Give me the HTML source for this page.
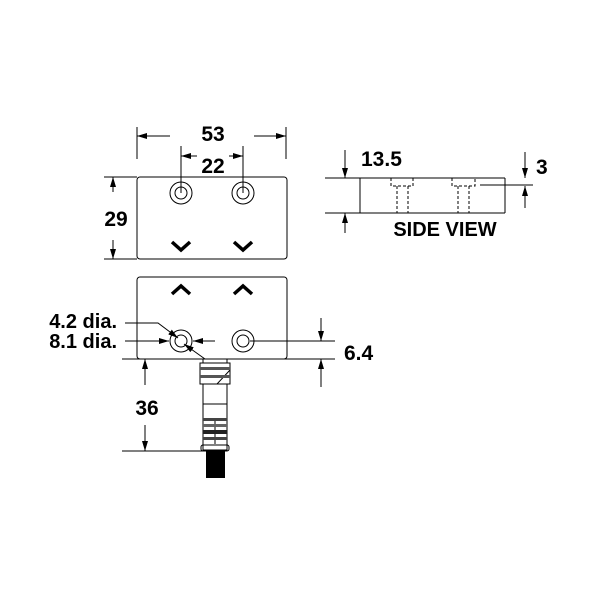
<!DOCTYPE html>
<html><head><style>
html,body{margin:0;padding:0;background:#fff;}
svg{display:block;}
text{font-family:"Liberation Sans",Arial,sans-serif;font-weight:bold;fill:#000;}
</style></head><body>
<svg width="600" height="600" viewBox="0 0 600 600" xmlns="http://www.w3.org/2000/svg">
<defs>
<marker id="a" viewBox="0 0 10 6" refX="10" refY="3" markerWidth="10" markerHeight="6" markerUnits="userSpaceOnUse" orient="auto"><path d="M0,0 L10,3 L0,6 z" fill="#000"/></marker>
</defs>
<g stroke="#000" stroke-width="1" fill="none">
<rect x="137" y="177" width="150" height="82" rx="3"/>
<circle cx="181" cy="193" r="11"/><circle cx="181" cy="193" r="6"/>
<circle cx="243" cy="193" r="11"/><circle cx="243" cy="193" r="6"/>
<path d="M172,242 L181,250 L190,242 M234,242 L243,250 L252,242" stroke-width="3.5"/>
<line x1="137" y1="127" x2="137" y2="159"/><line x1="286" y1="127" x2="286" y2="159"/>
<line x1="170" y1="136" x2="137" y2="136" marker-end="url(#a)"/>
<line x1="254" y1="136" x2="286" y2="136" marker-end="url(#a)"/>
<line x1="181" y1="146" x2="181" y2="193"/><line x1="243" y1="146" x2="243" y2="193"/>
<line x1="197" y1="156" x2="181" y2="156" marker-end="url(#a)"/>
<line x1="229" y1="156" x2="243" y2="156" marker-end="url(#a)"/>
<line x1="104" y1="177" x2="137" y2="177"/><line x1="104" y1="259" x2="137" y2="259"/>
<line x1="113" y1="192" x2="113" y2="177" marker-end="url(#a)"/>
<line x1="113" y1="240" x2="113" y2="259" marker-end="url(#a)"/>
<rect x="137" y="277" width="150" height="82" rx="3"/>
<path d="M172,294 L181,286 L190,294 M234,294 L243,286 L252,294" stroke-width="3.5"/>
<circle cx="181" cy="341" r="11"/><circle cx="181" cy="341" r="6"/>
<circle cx="243" cy="341" r="11"/><circle cx="243" cy="341" r="6"/>
<polyline points="125,323 158,323 178,338" marker-end="url(#a)"/>
<line x1="125" y1="341" x2="169" y2="341" marker-end="url(#a)"/>
<line x1="215" y1="341" x2="193" y2="341" marker-end="url(#a)"/>
<line x1="205" y1="359" x2="184" y2="344" marker-end="url(#a)"/>
<line x1="122" y1="359" x2="335" y2="359"/>
<line x1="250" y1="341" x2="335" y2="341"/>
<line x1="321" y1="318" x2="321" y2="341" marker-end="url(#a)"/>
<line x1="321" y1="387" x2="321" y2="359" marker-end="url(#a)"/>
<line x1="145" y1="385" x2="145" y2="359" marker-end="url(#a)"/>
<line x1="145" y1="425" x2="145" y2="451" marker-end="url(#a)"/>
<line x1="122" y1="451" x2="205" y2="451"/>
<rect x="200" y="363" width="30" height="21"/>
<rect x="203" y="384" width="24" height="66"/>
<line x1="203" y1="404" x2="227" y2="404"/>
<line x1="215" y1="418" x2="215" y2="444"/>
<rect x="201" y="445" width="28" height="6" rx="2"/>
<line x1="217" y1="384" x2="230" y2="370"/>
<line x1="203" y1="359" x2="203" y2="363"/><line x1="227" y1="359" x2="227" y2="363"/>
</g>
<g fill="#000">
<rect x="200" y="367" width="30" height="3" fill="#555"/>
<rect x="200" y="375" width="30" height="3" fill="#555"/>
<rect x="203" y="418" width="24" height="3" fill="#444"/>
<rect x="203" y="424" width="24" height="3" fill="#666"/>
<rect x="203" y="430" width="24" height="4" fill="#222"/>
<rect x="203" y="437" width="24" height="3" fill="#444"/>
<rect x="206" y="451" width="19" height="27"/>
</g>
<g stroke="#000" stroke-width="1" fill="none">
<line x1="325" y1="178" x2="505" y2="178"/>
<line x1="325" y1="213" x2="505" y2="213"/>
<line x1="360" y1="178" x2="360" y2="213"/>
<line x1="505" y1="178" x2="505" y2="213"/>
<polyline points="391,178 391,186 413,186 413,178" stroke-dasharray="3,2"/>
<polyline points="452,178 452,186 475,186 475,178" stroke-dasharray="3,2"/>
<g stroke-dasharray="3,2">
<line x1="397" y1="186" x2="397" y2="213"/><line x1="408" y1="186" x2="408" y2="213"/>
<line x1="458" y1="186" x2="458" y2="213"/><line x1="469" y1="186" x2="469" y2="213"/>
</g>
<line x1="345" y1="150" x2="345" y2="178" marker-end="url(#a)"/>
<line x1="345" y1="233" x2="345" y2="213" marker-end="url(#a)"/>
<line x1="480" y1="185" x2="533" y2="185"/>
<line x1="525" y1="152" x2="525" y2="178" marker-end="url(#a)"/>
<line x1="525" y1="208" x2="525" y2="186" marker-end="url(#a)"/>
</g>
<text x="213" y="141" font-size="21" text-anchor="middle">53</text>
<text x="213" y="173" font-size="21" text-anchor="middle">22</text>
<text x="116" y="226" font-size="21" text-anchor="middle">29</text>
<text x="117" y="328" font-size="20" text-anchor="end">4.2 dia.</text>
<text x="117" y="348" font-size="20" text-anchor="end">8.1 dia.</text>
<text x="344" y="360" font-size="21">6.4</text>
<text x="147" y="415" font-size="21" text-anchor="middle">36</text>
<text x="361" y="166" font-size="21">13.5</text>
<text x="536" y="174" font-size="21">3</text>
<text x="445" y="236" font-size="20" text-anchor="middle">SIDE VIEW</text>
</svg>
</body></html>
